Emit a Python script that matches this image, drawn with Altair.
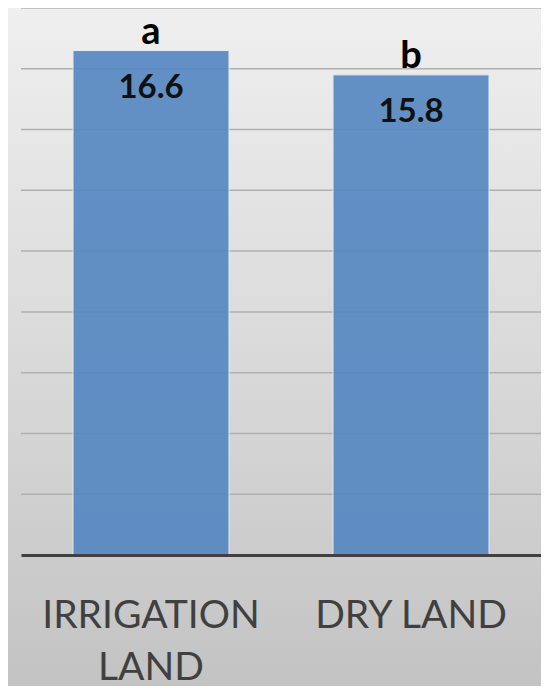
import altair as alt
import pandas as pd

categories = ["IRRIGATION LAND", "DRY LAND"]
values = [16.6, 15.8]
letters = ["a", "b"]
grid_values = [2, 4, 6, 8, 10, 12, 14, 16, 18]

df = pd.DataFrame({"cat": categories, "val": values, "letter": letters})
gdf = pd.DataFrame({"val": grid_values})

W, H = 520, 547
PAD = {"left": 13, "top": 0, "right": 0, "bottom": 131}

yscale = alt.Scale(domain=[0, 18], nice=False)

x_enc = alt.X("cat:N", sort=categories, title=None,
              scale=alt.Scale(paddingInner=0.4, paddingOuter=0.2),
              axis=alt.Axis(labelAngle=0, labelFont="Lato", labelFontSize=39,
                            labelColor="#404040", labelPadding=41, ticks=False,
                            domainColor="#404040", domainWidth=3, labelLimit=400,
                            labelLineHeight=52, labelBaseline="top", grid=False,
                            zindex=1,
                            labelExpr="datum.value == 'IRRIGATION LAND' ? ['IRRIGATION', 'LAND'] : datum.value"))
y_enc = alt.Y("val:Q", title=None, scale=yscale, axis=None)

bg = alt.Chart(df).mark_rect(
    color=alt.LinearGradient(gradient="linear",
                             stops=[alt.GradientStop(color="#efefef", offset=0),
                                    alt.GradientStop(color="#dadada", offset=0.5),
                                    alt.GradientStop(color="#c3c3c3", offset=1)],
                             x1=0, x2=0, y1=0, y2=1)
).encode(x=alt.value(-13), x2=alt.value(W), y=alt.value(0), y2=alt.value(H + 131))

grid = alt.Chart(gdf).mark_rule(color="#b0b0b0", strokeWidth=1.5).encode(
    y=alt.Y("val:Q", scale=yscale, axis=None), x=alt.value(0), x2=alt.value(W))

bars = alt.Chart(df).mark_bar(color="#5487c2", opacity=0.9, stroke="#e6ecf4",
                              strokeWidth=1).encode(x=x_enc, y=y_enc)

nums = alt.Chart(df).mark_text(font="Lato", fontSize=33, fontWeight="bold",
                               color="#111111", baseline="alphabetic", dy=47).encode(
    x=alt.X("cat:N", sort=categories), y="val:Q", text=alt.Text("val:Q", format=".1f"))

lets = alt.Chart(df).mark_text(font="Lato", fontSize=38, fontWeight="bold",
                               color="#000000", baseline="alphabetic", dy=-7).encode(
    x=alt.X("cat:N", sort=categories), y="val:Q", text="letter:N")

chart = alt.layer(bg, grid, bars, nums, lets).properties(
    width=W, height=H, autosize=alt.AutoSizeParams(type="none"), padding=PAD
).configure_view(stroke=None).configure(background="#dadada")

chart.save("out.html", embed_options={"renderer": "svg", "actions": False})
